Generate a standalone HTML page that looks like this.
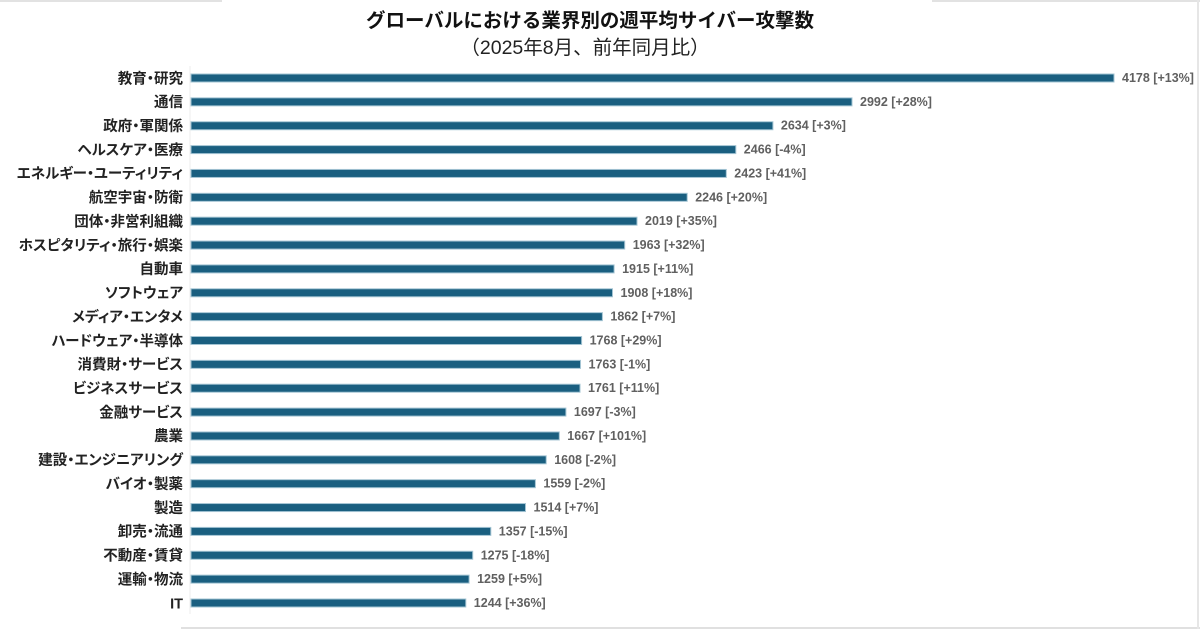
<!DOCTYPE html>
<html><head><meta charset="utf-8">
<style>
html,body{margin:0;padding:0;background:#fff;}
svg{display:block;}
.t{font-family:"Liberation Sans","Noto Sans CJK JP",sans-serif;}
.lab{font-family:"Liberation Sans","Noto Sans CJK JP",sans-serif;font-size:14.5px;font-weight:bold;fill:#222;font-feature-settings:"palt";}
.val{font-family:"Liberation Sans",sans-serif;font-size:12.5px;font-weight:bold;fill:#606060;}
.bar{fill:#1a5f80;stroke:#a3c4d3;stroke-width:1;}
</style></head>
<body>
<svg width="1200" height="633" viewBox="0 0 1200 633" xmlns="http://www.w3.org/2000/svg">
<rect width="1200" height="633" fill="#fff"/>
<line x1="0" y1="1" x2="222" y2="1" stroke="#e2e2e2" stroke-width="2"/>
<line x1="932" y1="1" x2="1200" y2="1" stroke="#e2e2e2" stroke-width="2"/>
<line x1="181" y1="628" x2="1200" y2="628" stroke="#e0e0e0" stroke-width="2"/>
<line x1="1198" y1="0" x2="1198" y2="629" stroke="#e6e6e6" stroke-width="2"/>
<line x1="190" y1="66" x2="190" y2="614" stroke="#ececec" stroke-width="1"/>

<text class="t" x="590" y="21" text-anchor="middle" dominant-baseline="central" font-size="19.5" font-weight="bold" fill="#111">グローバルにおける業界別の週平均サイバー攻撃数</text>
<text class="t" x="585" y="48" text-anchor="middle" dominant-baseline="central" font-size="19.5" fill="#222">（2025年8月、前年同月比）</text>

<g>
<rect class="bar" x="191" y="74" width="923" height="8"/>
<rect class="bar" x="191" y="97.86" width="661" height="8"/>
<rect class="bar" x="191" y="121.73" width="581.9" height="8"/>
<rect class="bar" x="191" y="145.59" width="544.8" height="8"/>
<rect class="bar" x="191" y="169.45" width="535.3" height="8"/>
<rect class="bar" x="191" y="193.32" width="496.2" height="8"/>
<rect class="bar" x="191" y="217.18" width="446" height="8"/>
<rect class="bar" x="191" y="241.05" width="433.7" height="8"/>
<rect class="bar" x="191" y="264.91" width="423.1" height="8"/>
<rect class="bar" x="191" y="288.77" width="421.5" height="8"/>
<rect class="bar" x="191" y="312.64" width="411.4" height="8"/>
<rect class="bar" x="191" y="336.5" width="390.6" height="8"/>
<rect class="bar" x="191" y="360.36" width="389.5" height="8"/>
<rect class="bar" x="191" y="384.23" width="389" height="8"/>
<rect class="bar" x="191" y="408.09" width="374.9" height="8"/>
<rect class="bar" x="191" y="431.95" width="368.3" height="8"/>
<rect class="bar" x="191" y="455.82" width="355.2" height="8"/>
<rect class="bar" x="191" y="479.68" width="344.4" height="8"/>
<rect class="bar" x="191" y="503.55" width="334.5" height="8"/>
<rect class="bar" x="191" y="527.41" width="299.8" height="8"/>
<rect class="bar" x="191" y="551.27" width="281.7" height="8"/>
<rect class="bar" x="191" y="575.14" width="278.1" height="8"/>
<rect class="bar" x="191" y="599" width="274.8" height="8"/>
</g>

<g text-anchor="end" dominant-baseline="central" transform="translate(0,1.3)">
<text class="lab" x="183" y="78">教育・研究</text>
<text class="lab" x="183" y="101.86">通信</text>
<text class="lab" x="183" y="125.73">政府・軍関係</text>
<text class="lab" x="183" y="149.59">ヘルスケア・医療</text>
<text class="lab" x="183" y="173.45">エネルギー・ユーティリティ</text>
<text class="lab" x="183" y="197.32">航空宇宙・防衛</text>
<text class="lab" x="183" y="221.18">団体・非営利組織</text>
<text class="lab" x="183" y="245.05">ホスピタリティ・旅行・娯楽</text>
<text class="lab" x="183" y="268.91">自動車</text>
<text class="lab" x="183" y="292.77">ソフトウェア</text>
<text class="lab" x="183" y="316.64">メディア・エンタメ</text>
<text class="lab" x="183" y="340.5">ハードウェア・半導体</text>
<text class="lab" x="183" y="364.36">消費財・サービス</text>
<text class="lab" x="183" y="388.23">ビジネスサービス</text>
<text class="lab" x="183" y="412.09">金融サービス</text>
<text class="lab" x="183" y="435.95">農業</text>
<text class="lab" x="183" y="459.82">建設・エンジニアリング</text>
<text class="lab" x="183" y="483.68">バイオ・製薬</text>
<text class="lab" x="183" y="507.55">製造</text>
<text class="lab" x="183" y="531.41">卸売・流通</text>
<text class="lab" x="183" y="555.27">不動産・賃貸</text>
<text class="lab" x="183" y="579.14">運輸・物流</text>
<text class="lab" x="183" y="603">IT</text>
</g>

<g dominant-baseline="central">
<text class="val" x="1122" y="78">4178 [+13%]</text>
<text class="val" x="860" y="101.86">2992 [+28%]</text>
<text class="val" x="780.9" y="125.73">2634 [+3%]</text>
<text class="val" x="743.8" y="149.59">2466 [-4%]</text>
<text class="val" x="734.3" y="173.45">2423 [+41%]</text>
<text class="val" x="695.2" y="197.32">2246 [+20%]</text>
<text class="val" x="645" y="221.18">2019 [+35%]</text>
<text class="val" x="632.7" y="245.05">1963 [+32%]</text>
<text class="val" x="622.1" y="268.91">1915 [+11%]</text>
<text class="val" x="620.5" y="292.77">1908 [+18%]</text>
<text class="val" x="610.4" y="316.64">1862 [+7%]</text>
<text class="val" x="589.6" y="340.5">1768 [+29%]</text>
<text class="val" x="588.5" y="364.36">1763 [-1%]</text>
<text class="val" x="588" y="388.23">1761 [+11%]</text>
<text class="val" x="573.9" y="412.09">1697 [-3%]</text>
<text class="val" x="567.3" y="435.95">1667 [+101%]</text>
<text class="val" x="554.2" y="459.82">1608 [-2%]</text>
<text class="val" x="543.4" y="483.68">1559 [-2%]</text>
<text class="val" x="533.5" y="507.55">1514 [+7%]</text>
<text class="val" x="498.8" y="531.41">1357 [-15%]</text>
<text class="val" x="480.7" y="555.27">1275 [-18%]</text>
<text class="val" x="477.1" y="579.14">1259 [+5%]</text>
<text class="val" x="473.8" y="603">1244 [+36%]</text>
</g>
</svg>
</body></html>
